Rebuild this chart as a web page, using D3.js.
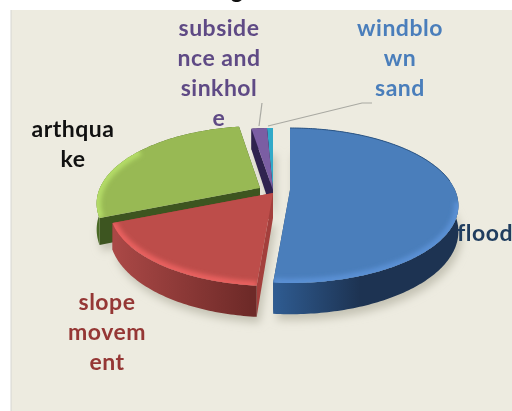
<!DOCTYPE html>
<html>
<head>
<meta charset="utf-8">
<script src="https://cdn.jsdelivr.net/npm/d3@7"></script>
<style>
  html, body { margin: 0; padding: 0; background: #fff; overflow: hidden; }
  svg { display: block; filter: blur(0.6px); }
  text { font-family: Lato, sans-serif; font-weight: 700; font-size: 23px; letter-spacing: 0.5px; }
</style>
</head>
<body>
<div id="chart"></div>
<script>
const categories = ["flood", "slope movement", "earthquake", "subsidence and sinkhole", "windblown sand"];
const shares = [51.3, 17.6, 28.6, 1.8, 0.7];
const labelLines = [["flood"], ["slope", "movem", "ent"], ["arthqua", "ke"], ["subside", "nce and", "sinkhol", "e"], ["windblo", "wn", "sand"]];

// styling, one entry per category
const topColors = ["#4a7ebb", "#bd4d4a", "#98b954", "#7b5ea3", "#31a9c8"];
const rimColors = ["#5a90d4", "#e8605e", "#b4dc68", "#8a6cb5", "#3cb8d8"];
const wallLeft = ["#2f5c92", "#aa4846", "#4a6a26", "#30234f", "#1f6f88"];
const wallRight = ["#1d3352", "#6e2a28", "#3f5a1f", "#30234f", "#1f6f88"];
const wallFrom = [273, 115, 100, 250, 260];
const wallTo = [360, 250, 160, 280, 280];
const faceColors = ["#24466f", "#a33f3c", "#3d5520", "#30234f", "#1f6f88"];
const textColors = ["#203d5f", "#953735", "#111111", "#5f4a85", "#4a7ebb"];
const apexX = [290, 273, 260, 273, 273];
const apexY = [190, 193, 188, 190, 190];
const radiusScale = [1, 0.97, 0.97, 1, 1];
const labelX = [457, 107, 73, 219, 400];
const labelY = [241, 310, 137, 36, 36];

const width = 512, height = 411;
const LINE_GAP = 30;
const RX = 165, RY = 74.4, TILT = 0.2, DEPTH = 25;

const svg = d3.select("#chart").append("svg")
    .attr("width", width)
    .attr("height", height);

const defs = svg.append("defs");
defs.append("filter").attr("id", "soft").attr("x", "-20%").attr("y", "-20%").attr("width", "140%").attr("height", "140%")
    .append("feGaussianBlur").attr("stdDeviation", 4);
defs.append("filter").attr("id", "softRim").attr("x", "-20%").attr("y", "-20%").attr("width", "140%").attr("height", "140%")
    .append("feGaussianBlur").attr("stdDeviation", 2);

svg.append("rect").attr("x", 11).attr("y", 10).attr("width", width - 11).attr("height", height - 10).attr("fill", "#edebe0");
svg.append("line").attr("x1", 11).attr("x2", 11).attr("y1", 10).attr("y2", height).attr("stroke", "#d6d6d2");

// only the tail of the cropped title is left at the top
svg.append("text").attr("x", 237).attr("y", -2).attr("text-anchor", "middle").attr("fill", "#111").text("g");

const arcs = d3.pie().sort(null).value(d => d)(shares);

// pie plane to screen, with a bit of perspective so the front looks bigger
function project(i, angle, r, down) {
    const u = Math.sin(angle) * r, v = -Math.cos(angle) * r;
    const w = 1 - TILT * v;
    const s = radiusScale[i];
    return [apexX[i] + s * RX * u / w, apexY[i] + RY * v / w + (down ? DEPTH / w : 0)];
}

function rimPoints(i, d, down) {
    const n = Math.max(4, Math.ceil((d.endAngle - d.startAngle) * 60));
    return d3.range(n + 1).map(k => project(i, d.startAngle + (d.endAngle - d.startAngle) * k / n, 1, down));
}

// only the part of the rim turned towards the viewer
function frontRim(i, d, limit) {
    const n = Math.ceil((d.endAngle - d.startAngle) * 60);
    return d3.range(n + 1)
        .map(k => d.startAngle + (d.endAngle - d.startAngle) * k / n)
        .filter(a => -Math.cos(a) > limit)
        .map(a => project(i, a, 1, false));
}

const line = d3.line();
const closed = pts => line(pts) + "Z";

function topFace(i, d) {
    return closed([project(i, 0, 0, false), ...rimPoints(i, d, false)]);
}

// soft shadow first
const shadow = svg.append("g").attr("filter", "url(#soft)").attr("transform", "translate(3,6)");
arcs.forEach((d, i) => {
    shadow.append("path").attr("d", closed([project(i, 0, 0, true), ...rimPoints(i, d, true)])).attr("fill", "#c4c2b4");
});

const rimLimit = [0.15, 0.1, -0.55];

// back to front
const order = [4, 3, 2, 1, 0];
order.forEach(i => {
    const d = arcs[i];
    const g = svg.append("g");

    const gradId = "wall" + i;
    const grad = defs.append("linearGradient").attr("id", gradId).attr("gradientUnits", "userSpaceOnUse")
        .attr("x1", wallFrom[i]).attr("x2", wallTo[i]).attr("y1", 0).attr("y2", 0);
    grad.append("stop").attr("offset", 0).attr("stop-color", wallLeft[i]);
    grad.append("stop").attr("offset", 1).attr("stop-color", wallRight[i]);

    // radial cut faces
    [d.startAngle, d.endAngle].forEach(a => {
        g.append("path")
            .attr("d", closed([project(i, a, 0, false), project(i, a, 1, false), project(i, a, 1, true), project(i, a, 0, true)]))
            .attr("fill", faceColors[i]);
    });

    // outer wall
    const upper = rimPoints(i, d, false), lower = rimPoints(i, d, true);
    g.append("path").attr("d", closed([...upper, ...lower.reverse()])).attr("fill", `url(#${gradId})`);

    // top face with a soft light rim
    const clipId = "clip" + i;
    defs.append("clipPath").attr("id", clipId).append("path").attr("d", topFace(i, d));
    g.append("path").attr("d", topFace(i, d)).attr("fill", topColors[i]);
    if (i < 3) {
        g.append("g").attr("clip-path", `url(#${clipId})`)
            .append("path")
            .attr("d", line(frontRim(i, d, rimLimit[i])))
            .attr("fill", "none")
            .attr("stroke", rimColors[i])
            .attr("stroke-width", 9)
            .attr("filter", "url(#softRim)");
    }
    if (i === 0) {
        // blue has a thin dark edge on its back side
        g.append("path")
            .attr("d", line(frontRim(i, d, -2).filter((p, k, all) => k < all.length * 0.45)))
            .attr("fill", "none")
            .attr("stroke", "#2c5686")
            .attr("stroke-width", 1);
    }
});

// leader lines
const leader = d3.line();
svg.append("path").attr("d", leader([[262, 103], [259, 126]])).attr("fill", "none").attr("stroke", "#a9a9a2").attr("stroke-width", 1.2);
svg.append("path").attr("d", leader([[372, 103], [362, 103], [268, 126]])).attr("fill", "none").attr("stroke", "#a9a9a2").attr("stroke-width", 1.2);

// labels
categories.forEach((c, i) => {
    const t = svg.append("text")
        .attr("text-anchor", i === 0 ? "start" : "middle")
        .attr("fill", textColors[i]);
    labelLines[i].forEach((s, k) => {
        t.append("tspan").attr("x", labelX[i]).attr("y", labelY[i] + k * LINE_GAP).text(s);
    });
});
</script>
</body>
</html>
